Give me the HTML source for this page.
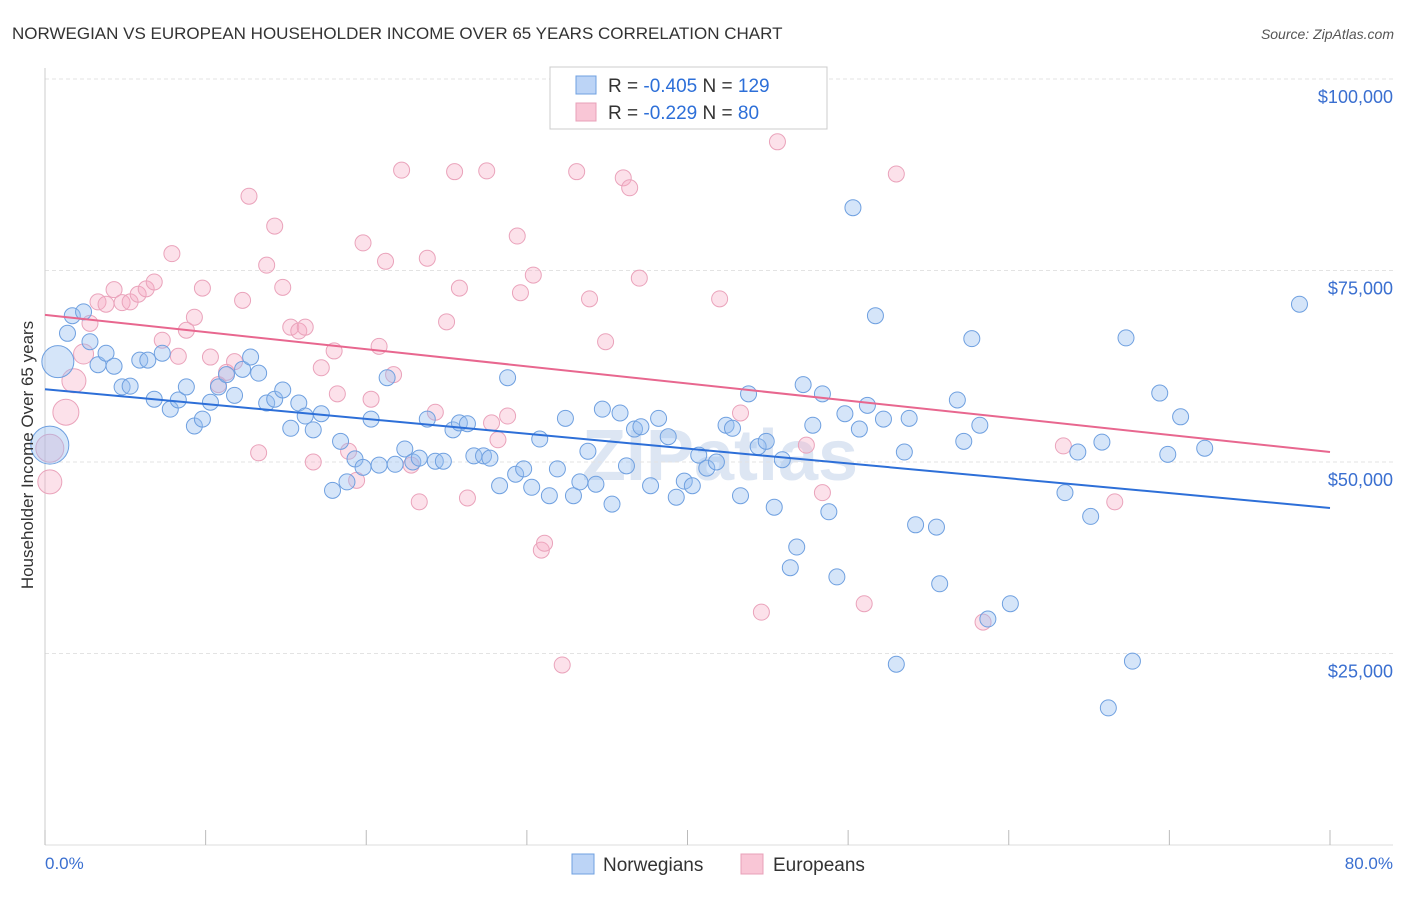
<!DOCTYPE html>
<html><head><meta charset="utf-8"><style>
body{margin:0;background:#fff;font-family:"Liberation Sans",sans-serif}
svg text{font-family:"Liberation Sans",sans-serif}
</style></head><body>
<svg id="c" width="1406" height="892" viewBox="0 0 1406 892">
<text x="12" y="39" font-size="17" fill="#333">NORWEGIAN VS EUROPEAN HOUSEHOLDER INCOME OVER 65 YEARS CORRELATION CHART</text>
<text x="1394" y="39" font-size="14" fill="#555" font-style="italic" text-anchor="end">Source: ZipAtlas.com</text>
<text x="720" y="480" font-size="72" fill="#dde6f3" text-anchor="middle" font-weight="bold">ZIPatlas</text>
<g id="grid"></g><g id="pts"></g><g id="lines"></g>
<text transform="translate(33,455) rotate(-90)" font-size="17" fill="#333" text-anchor="middle">Householder Income Over 65 years</text>
<text x="45" y="869" font-size="17" fill="#3a6fd0">0.0%</text>
<text x="1393" y="869" font-size="17" fill="#3a6fd0" text-anchor="end">80.0%</text>
<g>
<rect x="550" y="67" width="277" height="62" fill="#fff" stroke="#ccc"/>
<rect x="576" y="76" width="20" height="18" fill="#bcd4f6" stroke="#6fa0e0"/>
<rect x="576" y="103" width="20" height="18" fill="#f9c6d6" stroke="#e8a0b8"/>
<text x="608" y="92" font-size="19" fill="#333">R = <tspan fill="#2d6fd8">-0.405</tspan>   N = <tspan fill="#2d6fd8">129</tspan></text>
<text x="608" y="119" font-size="19" fill="#333">R =  <tspan fill="#2d6fd8">-0.229</tspan>   N =  <tspan fill="#2d6fd8">80</tspan></text>
</g>
<g>
<rect x="572" y="854" width="22" height="20" fill="#bcd4f6" stroke="#6fa0e0"/>
<text x="603" y="871" font-size="19" fill="#333">Norwegians</text>
<rect x="741" y="854" width="22" height="20" fill="#f9c6d6" stroke="#e8a0b8"/>
<text x="773" y="871" font-size="19" fill="#333">Europeans</text>
</g>
</svg>
<script>
const yTicks=[25000,50000,75000,100000];
const yTickLabels=["$25,000","$50,000","$75,000","$100,000"];
const blueX=[0.8,0.3,1.4,1.7,2.4,2.8,3.3,3.8,4.3,4.8,5.3,5.9,6.4,6.8,7.3,7.8,8.3,8.8,9.3,9.8,10.3,10.8,11.3,11.8,12.3,12.8,13.3,13.8,14.3,14.8,15.3,15.8,16.2,16.7,17.2,17.9,18.4,18.8,19.3,19.8,20.3,20.8,21.3,21.8,22.4,22.9,23.3,23.8,24.3,24.8,25.4,25.8,26.3,26.7,27.3,27.7,28.3,28.8,29.3,29.8,30.3,30.8,31.4,31.9,32.4,32.9,33.3,33.8,34.3,34.7,35.3,35.8,36.2,36.7,37.1,37.7,38.2,38.8,39.3,39.8,40.3,40.7,41.2,41.8,42.4,42.8,43.3,43.8,44.4,44.9,45.4,45.9,46.4,46.8,47.2,47.8,48.4,48.8,49.3,49.8,50.3,50.7,51.2,51.7,52.2,53.0,53.5,53.8,54.2,55.5,55.7,56.8,57.2,57.7,58.2,58.7,60.1,63.5,64.3,65.1,65.8,66.2,67.3,67.7,69.4,69.9,70.7,72.2,78.1];
const blueY=[63.1,52.2,66.8,69.1,69.6,65.7,62.7,64.2,62.5,59.8,59.9,63.3,63.3,58.2,64.2,56.9,58.1,59.8,54.7,55.6,57.8,59.8,61.4,58.7,62.1,63.7,61.6,57.7,58.2,59.4,54.4,57.7,56.0,54.2,56.3,46.3,52.7,47.4,50.4,49.3,55.6,49.6,61.0,49.7,51.7,50.0,50.5,55.6,50.1,50.1,54.2,55.1,55.0,50.8,50.8,50.5,46.9,61.0,48.4,49.1,46.7,53.0,45.6,49.1,55.7,45.6,47.4,51.4,47.1,56.9,44.5,56.4,49.5,54.3,54.6,46.9,55.7,53.3,45.4,47.5,46.9,50.9,49.2,50.0,54.8,54.4,45.6,58.9,52.0,52.7,44.1,50.3,36.2,38.9,60.1,54.8,58.9,43.5,35.0,56.3,83.2,54.3,57.4,69.1,55.6,23.6,51.3,55.7,41.8,41.5,34.1,58.1,52.7,66.1,54.8,29.5,31.5,46.0,51.3,42.9,52.6,17.9,66.2,24.0,59.0,51.0,55.9,51.8,70.6];
const blueR={0:16,1:19};
const pinkX=[0.3,0.3,1.3,1.8,2.4,2.8,3.3,3.8,4.3,4.8,5.3,5.8,6.3,6.8,7.3,7.9,8.3,8.8,9.3,9.8,10.3,10.8,11.3,11.8,12.3,12.7,13.3,13.8,14.3,14.8,15.3,15.8,16.2,16.7,17.2,18.0,18.2,18.9,19.4,19.8,20.3,20.8,21.2,21.7,22.2,22.8,23.3,23.8,24.3,25.0,25.5,25.8,26.3,27.5,27.8,28.2,28.8,29.4,29.6,30.4,30.9,31.1,32.2,33.1,33.9,34.9,36.0,36.4,37.0,42.0,43.3,44.6,45.6,47.4,48.4,51.0,53.0,58.4,63.4,66.6];
const pinkY=[51.8,47.4,56.5,60.6,64.1,68.1,70.9,70.6,72.5,70.8,70.9,71.9,72.6,73.5,65.9,77.2,63.8,67.2,68.9,72.7,63.7,60.1,61.7,63.1,71.1,84.7,51.2,75.7,80.8,72.8,67.6,67.1,67.6,50.0,62.3,64.5,58.9,51.4,47.6,78.6,58.2,65.1,76.2,61.4,88.1,49.6,44.8,76.6,56.5,68.3,87.9,72.7,45.3,88.0,55.1,52.9,56.0,79.5,72.1,74.4,38.5,39.4,23.5,87.9,71.3,65.7,87.1,85.8,74.0,71.3,56.4,30.4,91.8,52.2,46.0,31.5,87.6,29.1,52.1,44.8];
const pinkR={0:14,1:12,2:13,3:12,4:10};
const blueTrend=[59.5,44.0];
const pinkTrend=[69.2,51.3];
const xTicks=[0,10,20,30,40,50,60,70,80];
const NS="http://www.w3.org/2000/svg";
const X=p=>45+p/80*1285;
const Y=v=>79+(100-v)/25*191.5;
function mk(tag,at,parent){const e=document.createElementNS(NS,tag);for(const k in at)e.setAttribute(k,at[k]);parent.appendChild(e);return e;}
const grid=document.getElementById('grid');
yTicks.forEach((t,i)=>{
 const l=mk('line',{x1:45,x2:1393,y1:Y(t/1000),y2:Y(t/1000),stroke:'#e3e3e3','stroke-dasharray':'4,3'},grid);
 
 
 const tx=mk('text',{x:1393,y:Y(t/1000)+24,'font-size':18,fill:'#3a6fd0','text-anchor':'end'},grid);
 tx.textContent=yTickLabels[i];
 
 
});
const ax=mk('line',{x1:45,x2:45,y1:68,y2:845,stroke:'#ccc'},grid);


const bx=mk('line',{x1:45,x2:1393,y1:845,y2:845,stroke:'#ddd'},grid);


xTicks.forEach(t=>{
 const l=mk('line',{x1:X(t),x2:X(t),y1:830,y2:845,stroke:'#bbb'},grid);
 
 
});
const pts=document.getElementById('pts');
pinkX.forEach((x,i)=>{
 const c=mk('circle',{cx:X(x),cy:Y(pinkY[i]),r:pinkR[i]||8,fill:'rgba(245,170,195,0.35)',stroke:'#eaa3bb','stroke-width':1},pts);
 
 
});
blueX.forEach((x,i)=>{
 const c=mk('circle',{cx:X(x),cy:Y(blueY[i]),r:blueR[i]||8,fill:'rgba(150,190,240,0.4)',stroke:'#6fa0e0','stroke-width':1},pts);
 
 
});
const lines=document.getElementById('lines');
const bl=mk('line',{x1:X(0),y1:Y(blueTrend[0]),x2:X(80),y2:Y(blueTrend[1]),stroke:'#2d6fd8','stroke-width':2},lines);


const pl=mk('line',{x1:X(0),y1:Y(pinkTrend[0]),x2:X(80),y2:Y(pinkTrend[1]),stroke:'#e8678f','stroke-width':2},lines);


</script>
</body></html>
